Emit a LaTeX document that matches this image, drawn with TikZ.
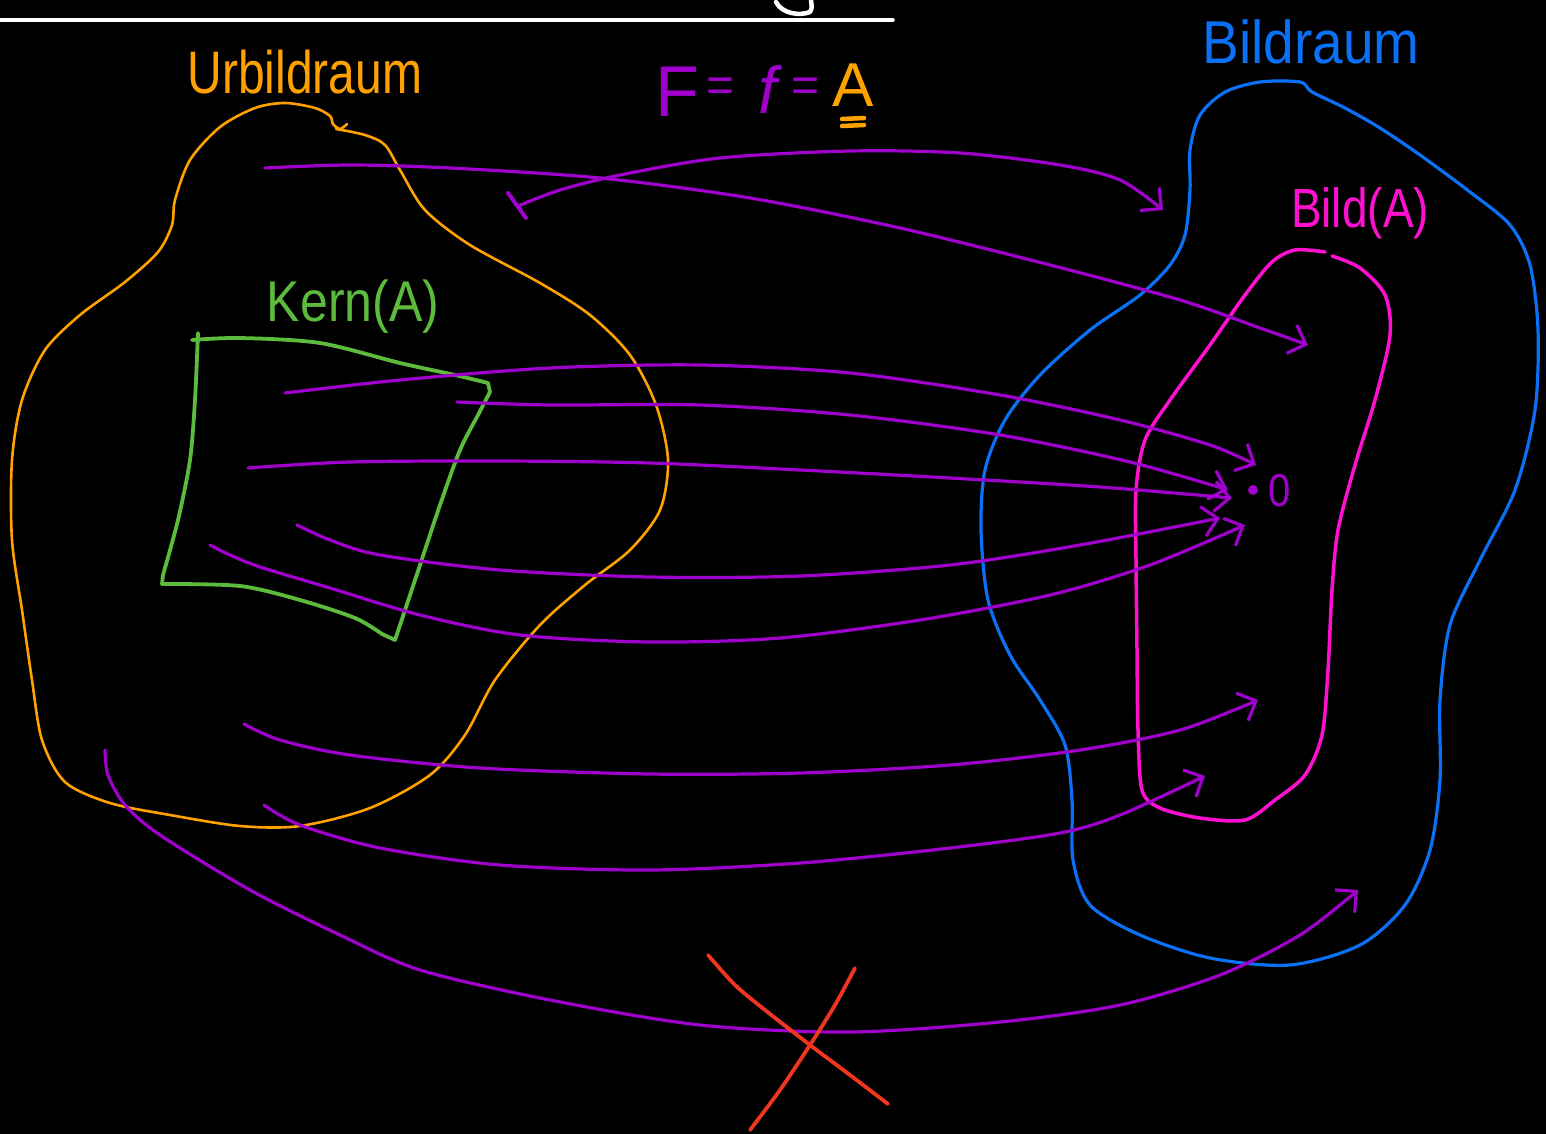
\documentclass[tikz,border=0pt]{standalone}
\usepackage{fontspec}
\setmainfont{Liberation Sans}
\usetikzlibrary{arrows.meta}
\definecolor{pur}{HTML}{A000CC}
\definecolor{orng}{HTML}{FFA200}
\definecolor{blu}{HTML}{0A70F5}
\definecolor{mag}{HTML}{FF10D0}
\definecolor{grn}{HTML}{5CBA3C}
\definecolor{rd}{HTML}{F03520}
\begin{document}
\begin{tikzpicture}[x=1pt,y=-1pt,line cap=round,line join=round,
  arr/.style={draw=pur,line width=3.2pt,-{Straight Barb[length=15pt,width=30pt]}},
  lbl/.style={inner sep=0pt,anchor=center}]
\fill[black] (0,0) rectangle (1546,1134);
\useasboundingbox (0,0) rectangle (1546,1134);
% top white
\draw[white,line width=3.5pt] (0,20) -- (893,20);
\draw[white,line width=4.5pt] (776,2) .. controls (782,14) and (800,16) .. (810,12) .. controls (812,8) .. (811,0);
% labels
\node[lbl,text=orng,font=\fontsize{48}{48}\selectfont] (urb) at (305,72) {\scalebox{1}[1.25]{Urbildraum}};
\node[lbl,text=blu,font=\fontsize{55}{55}\selectfont] (bildr) at (1311,42) {\scalebox{1}[1.1]{Bildraum}};
\node[lbl,text=mag,font=\fontsize{46}{46}\selectfont] (bilda) at (1360,213) {\scalebox{1}[1.2]{Bild(A)}};
\node[lbl,text=grn,font=\fontsize{50}{50}\selectfont] (kern) at (353,307) {\scalebox{1}[1.15]{Kern(A)}};
\node[lbl,text=pur,font=\fontsize{72}{72}\selectfont] (F) at (677,92) {F};
\node[lbl,text=pur,font=\fontsize{48}{48}\selectfont] (eq1) at (721,90) {=};
\node[lbl,text=pur,font=\fontsize{66}{66}\selectfont\itshape] (f) at (768,90) {f};
\node[lbl,text=pur,font=\fontsize{48}{48}\selectfont] (eq2) at (806,90) {=};
\node[lbl,text=orng,font=\fontsize{62}{62}\selectfont] (A) at (853,85) {A};
\draw[orng,line width=4.5pt] (842,119) -- (864,118) (842,126) -- (864,125);
% Urbildraum blob
\draw[orng,line width=2.6pt] plot[smooth] coordinates {(336,129) (365,135) (385,145) (400,170) (425,210) (470,245) (540,283) (590,315) (630,355) (656,405) (668,460) (660,510) (630,550) (585,585) (540,625) (495,680) (465,735) (430,775) (370,808) (300,826) (240,826) (170,815) (110,803) (65,782) (42,740) (32,680) (22,610) (12,540) (12,460) (22,400) (45,350) (80,315) (125,282) (158,252) (172,225) (175,200) (190,160) (220,127) (255,108) (285,103) (315,108) (330,116) (333,124) (340,129) (347,124)};
% Bildraum blob
\draw[blu,line width=3.2pt] plot[smooth cycle] coordinates {(1190,190) (1190,150) (1200,115) (1225,92) (1260,82) (1300,82) (1312,92) (1345,108) (1380,128) (1420,155) (1470,192) (1510,225) (1530,265) (1538,330) (1535,410) (1515,490) (1480,560) (1450,625) (1440,700) (1440,780) (1430,850) (1405,905) (1360,945) (1290,965) (1210,958) (1140,935) (1090,905) (1073,860) (1072,800) (1065,745) (1040,700) (1010,655) (988,600) (981,530) (985,470) (1005,420) (1040,375) (1090,330) (1140,295) (1170,265) (1185,235)};
% Bild(A) blob
\draw[mag,line width=3.5pt] plot[smooth] coordinates {(1325,252) (1295,250) (1272,262) (1245,295) (1210,345) (1170,400) (1145,440) (1136,490) (1136,560) (1137,650) (1138,730) (1142,790) (1160,808) (1200,818) (1245,820) (1275,800) (1305,775) (1322,735) (1328,670) (1332,590) (1338,530) (1355,465) (1375,400) (1390,335) (1385,295) (1360,268) (1332,256)};
% Kern(A) box
\draw[grn,line width=3.8pt] plot[smooth] coordinates {(192,340) (240,338) (320,343) (400,363) (455,375) (488,383)}
  -- (490,392) plot[smooth] coordinates {(490,392) (478,415) (460,450) (440,505) (420,565) (405,610) (395,640)}
  -- (382,634) plot[smooth] coordinates {(382,634) (355,618) (300,600) (240,586) (162,584)}
  -- (163,575) plot[smooth] coordinates {(163,575) (178,520) (190,460) (195,400) (198,333)};
% arrows
\draw[draw=pur,line width=4pt] (508,193) -- (526,218);
\draw[arr] plot[smooth] coordinates {(518,206) (560,190) (620,175) (720,158) (850,151) (960,153) (1060,165) (1120,180) (1163,210)};
\draw[arr] plot[smooth] coordinates {(265,168) (350,165) (450,168) (600,178) (750,198) (900,228) (1050,265) (1180,300) (1260,328) (1308,345)};
\draw[arr] plot[smooth] coordinates {(285,393) (400,380) (550,368) (700,365) (850,373) (1000,395) (1120,420) (1210,445) (1256,465)};
\draw[arr] plot[smooth] coordinates {(457,402) (550,405) (700,405) (850,415) (1000,435) (1130,462) (1228,490)};
\draw[arr] plot[smooth] coordinates {(248,468) (350,462) (500,461) (650,463) (800,470) (950,478) (1100,487) (1232,498)};
\draw[arr] plot[smooth] coordinates {(297,525) (330,540) (380,555) (500,570) (650,577) (800,576) (950,565) (1080,545) (1220,518)};
\draw[arr] plot[smooth] coordinates {(210,545) (230,555) (260,567) (330,588) (420,615) (520,635) (650,642) (780,638) (920,620) (1050,595) (1150,565) (1245,525)};
\draw[arr] plot[smooth] coordinates {(244,724) (280,740) (350,755) (480,768) (650,774) (800,773) (950,765) (1080,750) (1180,730) (1258,700)};
\draw[arr] plot[smooth] coordinates {(264,805) (300,825) (380,848) (500,865) (650,870) (800,863) (950,848) (1060,833) (1120,815) (1205,776)};
\draw[arr] plot[smooth] coordinates {(105,750) (108,775) (125,805) (160,835) (250,890) (340,935) (420,970) (550,1000) (700,1025) (850,1032) (1000,1022) (1120,1005) (1220,975) (1300,935) (1358,890)};
% zero point
\fill[pur] (1253,490) circle (5pt);
\node[lbl,text=pur,font=\fontsize{40}{40}\selectfont] (zero) at (1280,491) {\scalebox{1}[1.15]{0}};
% red cross
\draw[rd,line width=3.8pt] plot[smooth] coordinates {(708,955) (735,985) (765,1010) (810,1045) (850,1075) (888,1104)};
\draw[rd,line width=3.8pt] plot[smooth] coordinates {(855,968) (835,1005) (810,1045) (780,1090) (750,1130)};
\end{tikzpicture}
\end{document}
